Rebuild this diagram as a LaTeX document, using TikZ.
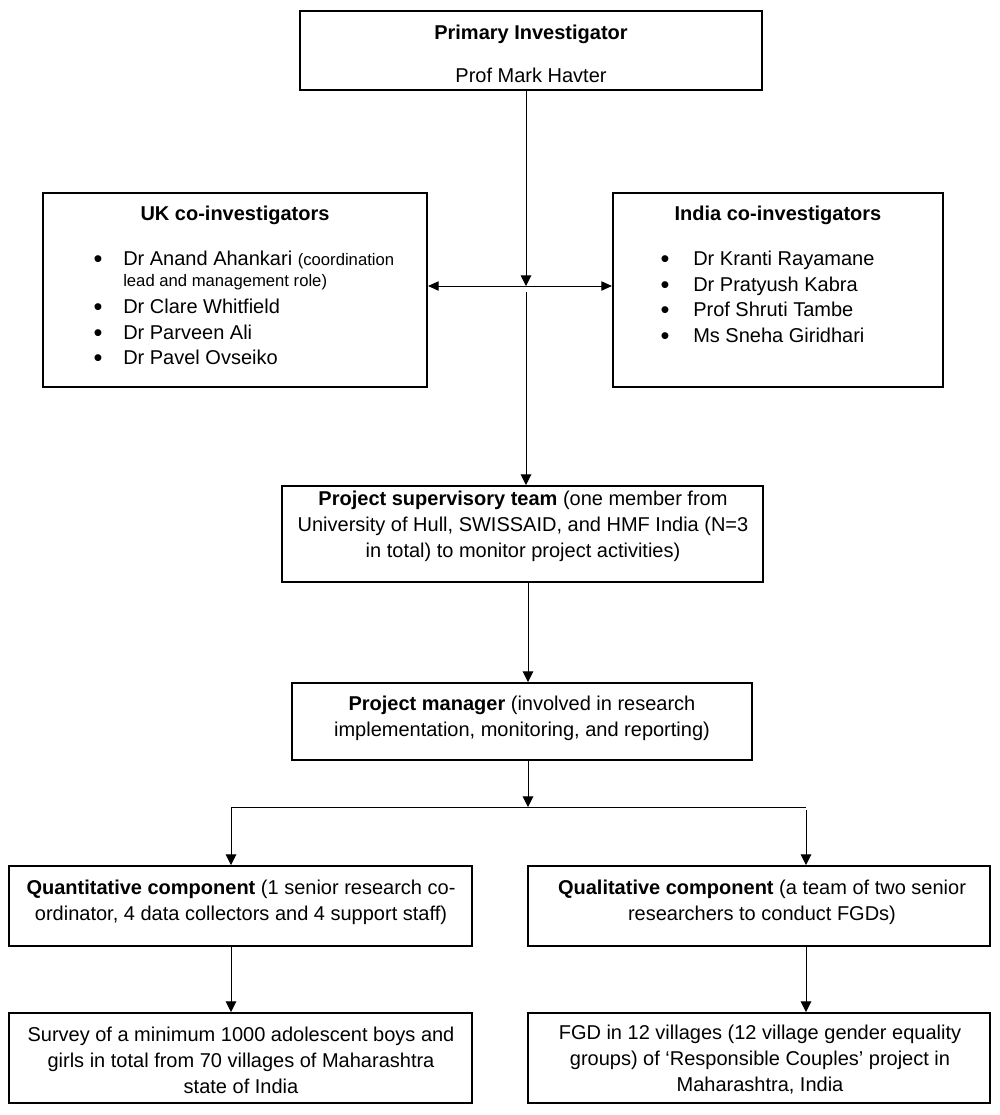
\documentclass[tikz,border=0pt]{standalone}
\usepackage{fontspec}
\setmainfont{Liberation Sans}
\usetikzlibrary{arrows.meta,fit}
\begin{document}
\begin{tikzpicture}[x=0.75pt,y=-0.75pt,
  box/.style={draw,line width=1.5pt,inner sep=0pt},
  txt/.style={inner sep=0pt,align=center,font=\fontsize{15}{19.5}\selectfont},
  btxt/.style={inner sep=0pt,anchor=base west,font=\fontsize{15}{19.5}\selectfont},
  bul/.style={inner sep=0pt,anchor=base,font=\fontsize{19}{19.5}\selectfont},
  conn/.style={line width=0.75pt},
  arr/.style={line width=0.75pt,-{Triangle[width=8pt,length=8pt]}},
  darr/.style={line width=0.75pt,{Triangle[width=7pt,length=8pt]}-{Triangle[width=7pt,length=8pt]}}]
\useasboundingbox (0,0) rectangle (1000,1115);

% boxes
\node[box, fit={(300,11) (762,90)}] (pi) {};
\node[box, fit={(43,193) (427,387)}] (uk) {};
\node[box, fit={(613,193) (943,387)}] (india) {};
\node[box, fit={(282,486) (763,582)}] (pst) {};
\node[box, fit={(292,683) (752,760)}] (pm) {};
\node[box, fit={(9,866) (472,946)}] (quant) {};
\node[box, fit={(528,866) (990,946)}] (qual) {};
\node[box, fit={(9,1013) (472,1103)}] (survey) {};
\node[box, fit={(528,1013) (990,1103)}] (fgd) {};

% PI text
\node[txt, anchor=base] (pit1) at (531,39) {\bfseries Primary Investigator};
\node[txt, anchor=base] (pit2) at (531,82) {Prof Mark Havter};

% UK text
\node[txt, anchor=base] (ukt) at (235,220) {\bfseries UK co-investigators};
\node[bul] (ukb1) at (98,267) {\textbullet};
\node[btxt] (ukl1) at (123,265) {Dr Anand Ahankari {\fontsize{12.5}{15}\selectfont(coordination}};
\node[btxt, font=\fontsize{12.5}{15}\selectfont] (ukl1b) at (123,286) {lead and management role)};
\node[bul] (ukb2) at (98,315) {\textbullet};
\node[btxt] (ukl2) at (123,313) {Dr Clare Whitfield};
\node[bul] (ukb3) at (98,341) {\textbullet};
\node[btxt] (ukl3) at (123,339) {Dr Parveen Ali};
\node[bul] (ukb4) at (98,366) {\textbullet};
\node[btxt] (ukl4) at (123,364) {Dr Pavel Ovseiko};

% India text
\node[txt, anchor=base] (int) at (778,220) {\bfseries India co-investigators};
\node[bul] (inb1) at (665,267) {\textbullet};
\node[btxt] (inl1) at (693,265) {Dr Kranti Rayamane};
\node[bul] (inb2) at (665,293) {\textbullet};
\node[btxt] (inl2) at (693,291) {Dr Pratyush Kabra};
\node[bul] (inb3) at (665,318) {\textbullet};
\node[btxt] (inl3) at (693,316) {Prof Shruti Tambe};
\node[bul] (inb4) at (665,344) {\textbullet};
\node[btxt] (inl4) at (693,342) {Ms Sneha Giridhari};

% other box texts
\node[txt] (pstt) at (523,526) {\textbf{Project supervisory team} (one member from\\University of Hull, SWISSAID, and HMF India (N=3\\in total) to monitor project activities)};
\node[txt] (pmt) at (522,718) {\textbf{Project manager} (involved in research\\implementation, monitoring, and reporting)};
\node[txt] (quantt) at (241,902) {\textbf{Quantitative component} (1 senior research co-\\ordinator, 4 data collectors and 4 support staff)};
\node[txt] (qualt) at (762,902) {\textbf{Qualitative component} (a team of two senior\\researchers to conduct FGDs)};
\node[txt] (surveyt) at (241,1060) {Survey of a minimum 1000 adolescent boys and\\girls in total from 70 villages of Maharashtra\\state of India};
\node[txt] (fgdt) at (760,1060) {FGD in 12 villages (12 village gender equality\\groups) of ‘Responsible Couples’ project in\\Maharashtra, India};

% connectors
\coordinate (j1) at (526,286);
\coordinate (j2) at (526,292);
\draw[arr] (pi.south -| j1) -- (j1);
\draw[darr] (uk.east |- j1) -- (india.west |- j1);
\draw[arr] (j2) -- (pst.north -| j2);
\coordinate (k) at (528,807);
\draw[arr] (pst.south -| k) -- (pm.north -| k);
\draw[arr] (pm.south -| k) -- (k);
\coordinate (bl) at (231,807);
\coordinate (br) at (806,807);
\coordinate (br2) at (806,810);
\draw[conn] (bl) -- (br);
\draw[arr] (bl) -- (quant.north -| bl);
\draw[arr] (br2) -- (qual.north -| br2);
\draw[arr] (quant.south -| bl) -- (survey.north -| bl);
\draw[arr] (qual.south -| br) -- (fgd.north -| br);
\end{tikzpicture}
\end{document}
